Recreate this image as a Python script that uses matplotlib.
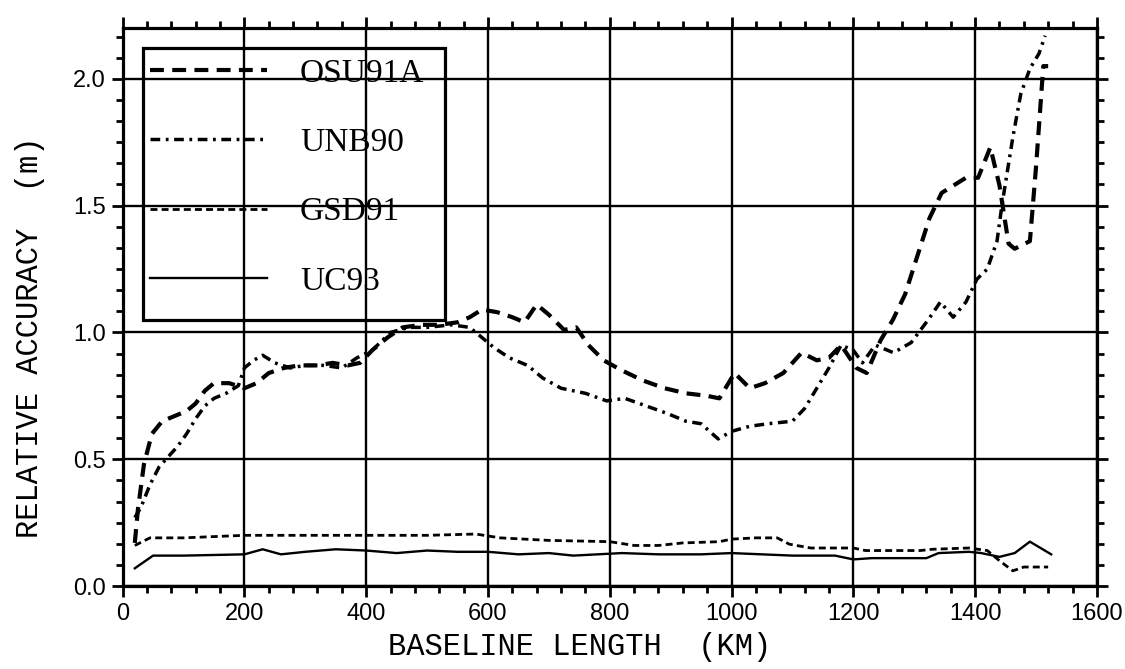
import matplotlib
matplotlib.use("Agg")
import matplotlib.pyplot as plt
from matplotlib.ticker import MultipleLocator, FormatStrFormatter
from matplotlib.patches import Rectangle

# baseline length (km) vs relative accuracy (m) for each geoid model
osu_km = [20, 25, 35, 48, 65, 85, 105, 120, 135, 150, 175, 200, 220, 240, 265,
          290, 320, 345, 370, 390, 410, 435, 460, 490, 520, 550, 570, 590, 615, 640,
          660, 680, 700, 725, 745, 765, 790, 820, 855, 890, 925, 960, 980, 1005, 1030,
          1055, 1085, 1115, 1140, 1160, 1180, 1205, 1222, 1245, 1265, 1285, 1305, 1325, 1345, 1365,
          1385, 1405, 1425, 1440, 1455, 1465, 1490, 1500, 1512, 1520]
osu_acc = [0.17, 0.30, 0.48, 0.60, 0.65, 0.67, 0.69, 0.72, 0.77, 0.80, 0.80, 0.78, 0.80, 0.84, 0.86,
           0.87, 0.87, 0.88, 0.87, 0.88, 0.93, 0.98, 1.02, 1.03, 1.03, 1.04, 1.06, 1.09, 1.08, 1.06,
           1.04, 1.11, 1.07, 1.01, 1.02, 0.95, 0.89, 0.85, 0.81, 0.78, 0.76, 0.75, 0.74, 0.84, 0.78,
           0.80, 0.84, 0.92, 0.89, 0.90, 0.95, 0.86, 0.84, 0.97, 1.05, 1.15, 1.30, 1.45, 1.55, 1.58,
           1.61, 1.61, 1.73, 1.58, 1.35, 1.33, 1.36, 1.65, 2.05, 2.05]

unb_km = [20, 30, 45, 60, 75, 90, 105, 120, 135, 150, 170, 190, 200, 215, 230,
          250, 275, 300, 330, 360, 385, 410, 440, 470, 500, 540, 570, 595, 610, 635,
          665, 690, 720, 760, 795, 825, 860, 895, 925, 950, 978, 1000, 1030, 1060, 1100,
          1120, 1140, 1160, 1180, 1200, 1215, 1236, 1266, 1295, 1323, 1343, 1364, 1385, 1403, 1420,
          1436, 1444, 1452, 1462, 1475, 1490, 1505, 1515]
unb_acc = [0.27, 0.31, 0.40, 0.47, 0.51, 0.55, 0.60, 0.66, 0.71, 0.74, 0.76, 0.79, 0.86, 0.89, 0.91,
           0.88, 0.86, 0.87, 0.87, 0.86, 0.90, 0.93, 1.00, 1.02, 1.02, 1.03, 1.02, 0.97, 0.94, 0.90,
           0.87, 0.82, 0.78, 0.76, 0.73, 0.74, 0.71, 0.68, 0.65, 0.64, 0.58, 0.61, 0.63, 0.64, 0.65,
           0.70, 0.78, 0.86, 0.95, 0.93, 0.88, 0.95, 0.92, 0.96, 1.05, 1.12, 1.06, 1.12, 1.21, 1.25,
           1.36, 1.50, 1.62, 1.77, 1.94, 2.04, 2.10, 2.17]

gsd_km = [20, 45, 100, 200, 300, 400, 500, 580, 620, 700, 800, 840, 880, 920, 980,
          1000, 1040, 1075, 1095, 1130, 1200, 1220, 1310, 1330, 1390, 1420, 1440, 1462, 1480, 1520]
gsd_acc = [0.16, 0.19, 0.19, 0.20, 0.20, 0.20, 0.20, 0.205, 0.19, 0.18, 0.175, 0.16, 0.16, 0.17, 0.175,
           0.185, 0.19, 0.19, 0.165, 0.15, 0.15, 0.14, 0.14, 0.145, 0.15, 0.14, 0.10, 0.06, 0.075, 0.075]

uc_km = [20, 50, 100, 200, 230, 260, 300, 350, 400, 450, 500, 550, 600, 650, 700,
         740, 780, 820, 880, 950, 1000, 1050, 1100, 1170, 1200, 1230, 1320, 1340, 1390, 1410,
         1440, 1465, 1490, 1525]
uc_acc = [0.07, 0.12, 0.12, 0.125, 0.145, 0.125, 0.135, 0.145, 0.14, 0.13, 0.14, 0.135, 0.135, 0.125, 0.13,
          0.12, 0.125, 0.13, 0.125, 0.125, 0.13, 0.125, 0.12, 0.12, 0.105, 0.11, 0.11, 0.13, 0.135, 0.13,
          0.115, 0.13, 0.175, 0.125]

plt.rcParams["lines.scale_dashes"] = False

fig = plt.figure(figsize=(11.25, 6.69), dpi=100)
ax = fig.add_axes([0.109, 0.124, 0.866, 0.834])

ax.plot(osu_km, osu_acc, color="black", lw=3.0, dashes=(10, 6), label="OSU91A")
ax.plot(unb_km, unb_acc, color="black", lw=2.5, dashes=(7, 4, 2, 4), label="UNB90")
ax.plot(gsd_km, gsd_acc, color="black", lw=2.0, dashes=(5, 3), label="GSD91")
ax.plot(uc_km, uc_acc, color="black", lw=1.7, label="UC93")

ax.set_xlim(0, 1600)
ax.set_ylim(0, 2.2)
ax.xaxis.set_major_locator(MultipleLocator(200))
ax.xaxis.set_minor_locator(MultipleLocator(40))
ax.yaxis.set_major_locator(MultipleLocator(0.5))
ax.yaxis.set_minor_locator(MultipleLocator(0.5 / 6))
ax.yaxis.set_major_formatter(FormatStrFormatter("%.1f"))
ax.tick_params(which="both", direction="out", top=True, right=True, width=2, color="black")
ax.tick_params(which="major", length=8, pad=4, labelsize=17)
ax.tick_params(which="minor", length=5)
for lab in ax.get_xticklabels() + ax.get_yticklabels():
    lab.set_family("Liberation Sans")
ax.grid(True, which="major", color="black", lw=1.7)
for sp in ax.spines.values():
    sp.set_linewidth(2.3)

mono = dict(family="Liberation Mono", size=22)
ax.set_xlabel("BASELINE LENGTH  (KM)", **mono)
ax.set_ylabel("RELATIVE ACCURACY  (m)", **mono)
ax.xaxis.set_label_coords(0.469, -0.082)
ax.yaxis.set_label_coords(-0.08, 0.446)

# transparent legend so the grid shows through, with a plain square frame
ax.legend(loc="upper left", bbox_to_anchor=(150 / 1125, 1 - 58 / 669),
          bbox_transform=fig.transFigure, frameon=False,
          prop=dict(family="Liberation Serif", size=24),
          handlelength=3.5, handletextpad=1.0, labelspacing=1.17,
          borderpad=0, borderaxespad=0)
fig.add_artist(Rectangle((143 / 1125, 1 - 320 / 669), (445 - 143) / 1125, (320 - 48) / 669,
                         transform=fig.transFigure, fill=False, lw=2.3, ec="black"))

fig.savefig("out.png", dpi=100)
